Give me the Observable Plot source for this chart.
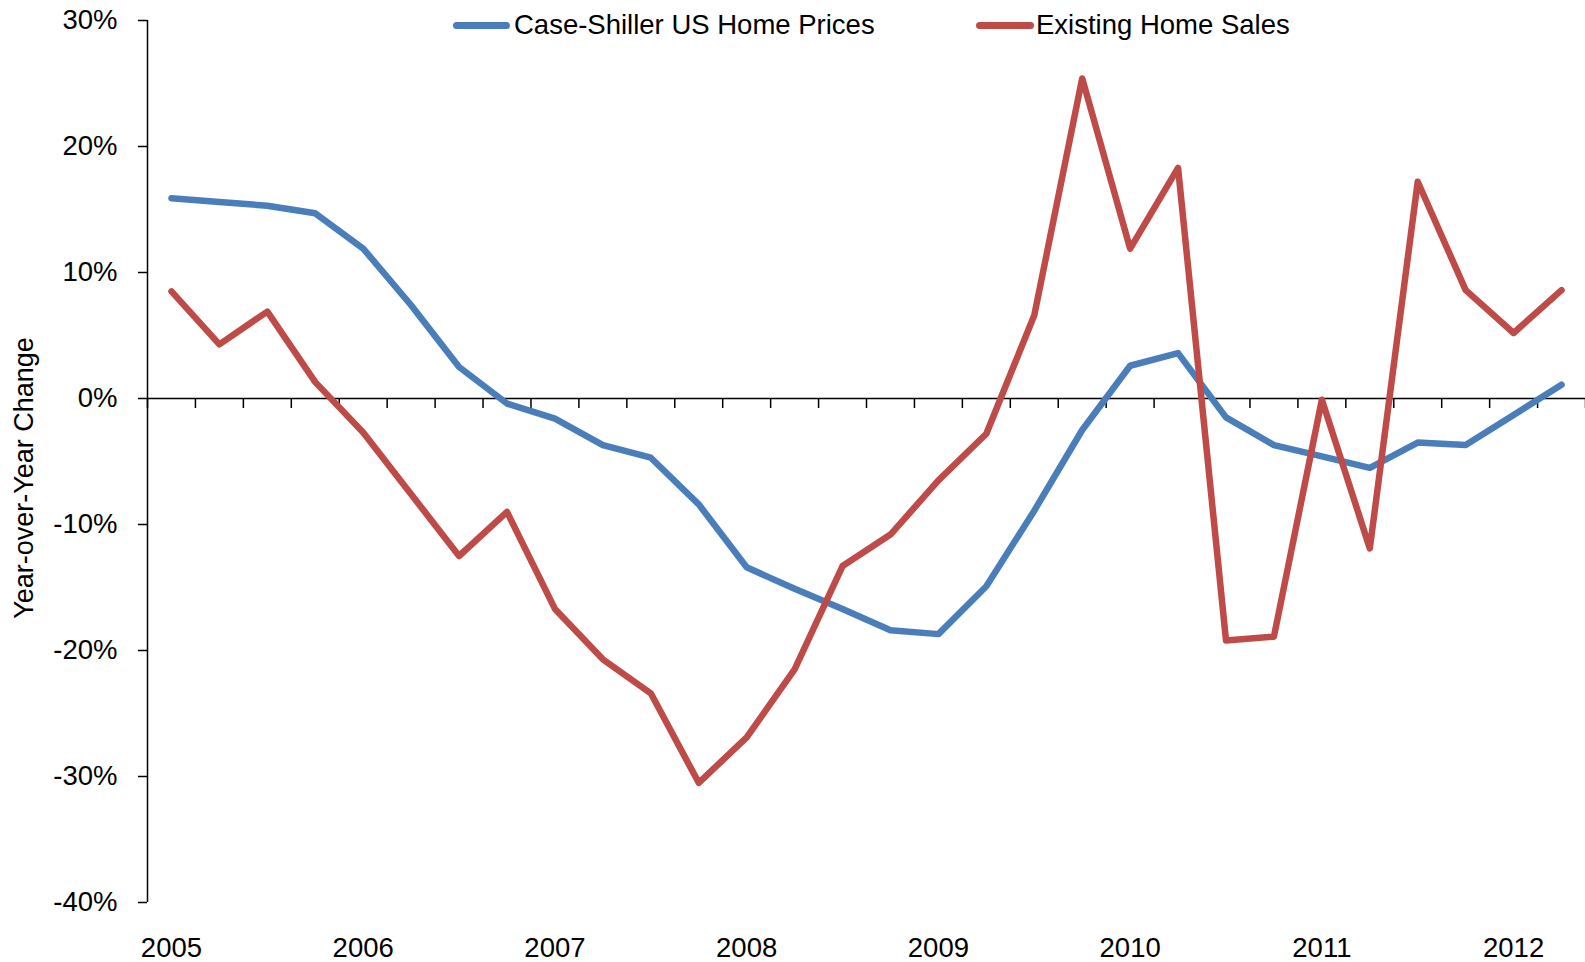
<!DOCTYPE html>
<html>
<head>
<meta charset="utf-8">
<script src="https://cdn.jsdelivr.net/npm/d3@7"></script>
<script src="https://cdn.jsdelivr.net/npm/@observablehq/plot@0.6"></script>
<style>
  html, body { margin: 0; padding: 0; background: #fff; }
  #wrap { position: relative; width: 1585px; height: 962px; font-family: "Liberation Sans", Arial, sans-serif; color: #000; }
  .sw { position: absolute; height: 7px; border-radius: 3.5px; top: 21.5px; }
  .lt { position: absolute; top: 10px; font-size: 27.5px; line-height: 30px; white-space: nowrap; }
  #ytitle { position: absolute; left: 24px; top: 478px; transform: translate(-50%, -50%) rotate(-90deg); font-size: 27px; white-space: nowrap; }
</style>
</head>
<body>
<div id="wrap">
  <div id="chart"></div>
  <div class="sw" style="left:453px;width:57px;background:#4a7ebb"></div>
  <div class="lt" style="left:514px">Case-Shiller US Home Prices</div>
  <div class="sw" style="left:976px;width:58px;background:#be4b48"></div>
  <div class="lt" style="left:1036px">Existing Home Sales</div>
  <div id="ytitle">Year-over-Year Change</div>
</div>
<script>
// Quarterly categories, 2005 Q1 .. 2012 Q2
const quarters = [
  "2005Q1","2005Q2","2005Q3","2005Q4",
  "2006Q1","2006Q2","2006Q3","2006Q4",
  "2007Q1","2007Q2","2007Q3","2007Q4",
  "2008Q1","2008Q2","2008Q3","2008Q4",
  "2009Q1","2009Q2","2009Q3","2009Q4",
  "2010Q1","2010Q2","2010Q3","2010Q4",
  "2011Q1","2011Q2","2011Q3","2011Q4",
  "2012Q1","2012Q2"
];
// Year-over-year change, %
const caseShiller = [
  15.9, 15.6, 15.3, 14.7,
  11.9, 7.4, 2.5, -0.4,
  -1.6, -3.7, -4.7, -8.4,
  -13.4, -15.1, -16.7, -18.4,
  -18.7, -14.9, -8.9, -2.5,
  2.6, 3.6, -1.5, -3.7,
  -4.6, -5.5, -3.5, -3.7,
  -1.3, 1.1
];
const existingSales = [
  8.5, 4.3, 6.9, 1.3,
  -2.7, -7.6, -12.5, -9.0,
  -16.7, -20.7, -23.4, -30.5,
  -26.9, -21.5, -13.3, -10.8,
  -6.5, -2.8, 6.6, 25.4,
  11.9, 18.3, -19.2, -18.9,
  -0.1, -11.9, 17.2, 8.6,
  5.2, 8.6
];
const yTicks = [-40, -30, -20, -10, 0, 10, 20, 30];
const yearLabels = ["2005","2006","2007","2008","2009","2010","2011","2012"];

const rows = quarters.map((q, i) => ({i, q, cs: caseShiller[i], ehs: existingSales[i]}));
const boundaries = d3.range(quarters.length + 1).map(i => i - 0.5);
const yearIdx = quarters.map((q, i) => i).filter(i => quarters[i].endsWith("Q1"));

const chart = Plot.plot({
  width: 1585,
  height: 962,
  marginLeft: 147,
  marginRight: 0,
  marginTop: 20,
  marginBottom: 60,
  style: {fontFamily: "'Liberation Sans', Arial, sans-serif", fontSize: "27px", color: "#000", background: "#fff", overflow: "visible"},
  x: {type: "linear", domain: [-0.5, quarters.length - 0.5]},
  y: {domain: [-40, 30]},
  marks: [
    Plot.axisY({ticks: yTicks, tickFormat: d => d + "%", tickSize: 9, tickPadding: 21, strokeWidth: 1.5, label: null, fontSize: 27.5}),
    Plot.axisX({ticks: yearIdx, tickFormat: i => yearLabels[quarters[i].slice(0, 4) - 2005], tickSize: 0, tickPadding: 35, label: null, fontSize: 27.5}),
    Plot.ruleX([-0.5], {stroke: "#000", strokeWidth: 1.5}),
    Plot.ruleY([0], {stroke: "#000", strokeWidth: 1.5}),
    Plot.ruleX(boundaries, {x: d => d, y1: 0, y2: 0, insetBottom: -10, stroke: "#000", strokeWidth: 1.5}),
    Plot.line(rows, {x: "i", y: "cs", stroke: "#4a7ebb", strokeWidth: 6.5, strokeLinecap: "round", strokeLinejoin: "round"}),
    Plot.line(rows, {x: "i", y: "ehs", stroke: "#be4b48", strokeWidth: 6.5, strokeLinecap: "round", strokeLinejoin: "round"})
  ]
});
document.getElementById("chart").appendChild(chart);
</script>
</body>
</html>
